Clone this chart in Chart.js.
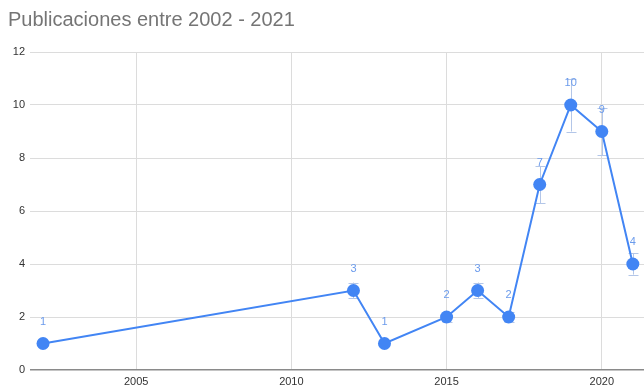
<!DOCTYPE html>
<html>
<head>
<meta charset="utf-8">
<script src="https://cdn.jsdelivr.net/npm/chart.js@4"></script>
<style>
    html, body { margin: 0; padding: 0; background: #fff; }
    #wrap { width: 644px; height: 388px; }
</style>
</head>
<body>
<div id="wrap"><canvas id="chart-publicaciones"></canvas></div>
<script>
// Publicaciones por año
const years = [2002, 2012, 2013, 2015, 2016, 2017, 2018, 2019, 2020, 2021];
const counts = [1, 3, 1, 2, 3, 2, 7, 10, 9, 4];
const xTicks = [2005, 2010, 2015, 2020];
const yTicks = [0, 2, 4, 6, 8, 10, 12];
const errorPct = 0.1;

const BLUE = '#4285f4';
const FONT = '"Liberation Sans", Arial, sans-serif';

// Barras de error (±10%) detrás de los puntos
const errorBars = {
    id: 'errorBars',
    beforeDatasetsDraw(chart) {
        const ctx = chart.ctx;
        const x = chart.scales.x, y = chart.scales.y;
        ctx.save();
        ctx.strokeStyle = '#b3c6e8';
        ctx.lineWidth = 1;
        years.forEach((yr, i) => {
            const px = Math.round(x.getPixelForValue(yr)) + 0.5;
            const lo = y.getPixelForValue(counts[i] * (1 - errorPct));
            const hi = y.getPixelForValue(counts[i] * (1 + errorPct));
            ctx.beginPath();
            ctx.moveTo(px, lo); ctx.lineTo(px, hi);
            ctx.moveTo(px - 5, Math.round(lo) + 0.5); ctx.lineTo(px + 5, Math.round(lo) + 0.5);
            ctx.moveTo(px - 5, Math.round(hi) + 0.5); ctx.lineTo(px + 5, Math.round(hi) + 0.5);
            ctx.stroke();
        });
        ctx.restore();
    }
};

// Etiquetas con el valor encima de cada punto
const valueLabels = {
    id: 'valueLabels',
    afterDatasetsDraw(chart) {
        const ctx = chart.ctx;
        const meta = chart.getDatasetMeta(0);
        ctx.save();
        ctx.fillStyle = '#6b9bec';
        ctx.font = '11px ' + FONT;
        ctx.textAlign = 'center';
        ctx.textBaseline = 'middle';
        meta.data.forEach((pt, i) => {
            ctx.fillText(String(counts[i]), pt.x, pt.y - 22);
        });
        ctx.restore();
    }
};

const ctx = document.getElementById('chart-publicaciones').getContext('2d');
const myChart = new Chart(ctx, {
    type: 'line',
    data: {
        datasets: [{
            label: 'Publicaciones',
            data: years.map((yr, i) => ({ x: yr, y: counts[i] })),
            borderColor: BLUE,
            backgroundColor: BLUE,
            borderWidth: 2,
            pointRadius: 6.5,
            pointBackgroundColor: BLUE,
            pointBorderColor: BLUE,
            pointBorderWidth: 0,
            tension: 0,
            clip: false
        }]
    },
    options: {
        responsive: true,
        maintainAspectRatio: false,
        animation: false,
        layout: { autoPadding: false, padding: { left: 8, right: 0, bottom: 0 } },
        plugins: {
            legend: { display: false },
            tooltip: { enabled: false },
            title: {
                display: true,
                text: 'Publicaciones entre 2002 - 2021',
                align: 'start',
                color: '#757575',
                font: { family: FONT, size: 20, weight: 'normal' },
                padding: { top: 8, bottom: 20 }
            }
        },
        scales: {
            x: {
                type: 'linear',
                min: 2001.58,
                max: 2021.36,
                afterBuildTicks: scale => { scale.ticks = xTicks.map(v => ({ value: v })); },
                afterFit: scale => {
                    scale.height = 18;
                    scale.paddingLeft = 0;
                    scale.paddingRight = 0;
                },
                border: { display: false },
                grid: { color: '#dcdcdc', drawTicks: false },
                ticks: {
                    color: '#333',
                    font: { family: FONT, size: 11 },
                    padding: 5,
                    maxRotation: 0,
                    callback: v => String(v)
                }
            },
            y: {
                min: 0,
                max: 12,
                afterBuildTicks: scale => { scale.ticks = yTicks.map(v => ({ value: v })); },
                afterFit: scale => { scale.width = 22; },
                border: { display: false },
                grid: {
                    drawTicks: false,
                    color: c => c.tick.value === 0 ? '#8a8a8a' : '#dcdcdc',
                    lineWidth: c => c.tick.value === 0 ? 1.5 : 1
                },
                ticks: {
                    color: '#333',
                    font: { family: FONT, size: 11 },
                    padding: 5
                }
            }
        }
    },
    plugins: [errorBars, valueLabels]
});
</script>
</body>
</html>
